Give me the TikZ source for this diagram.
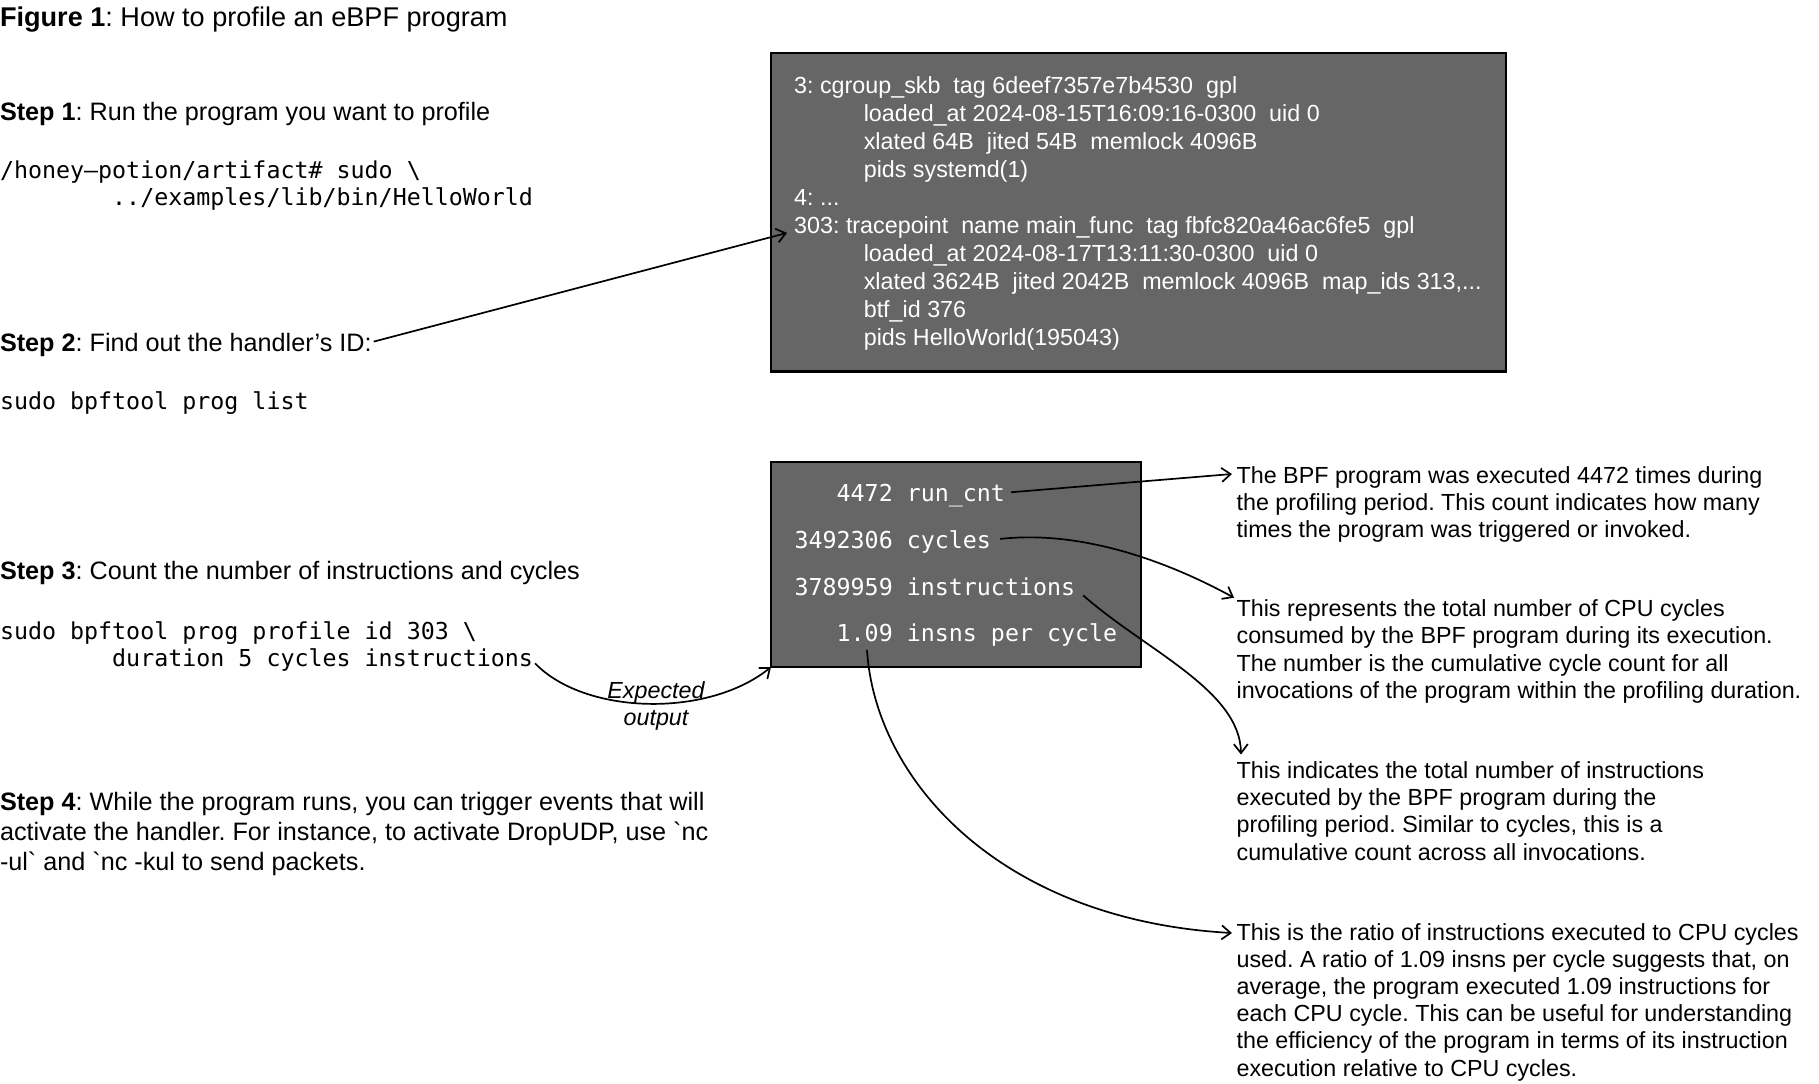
\documentclass[tikz,border=0pt]{standalone}
\usepackage{fontspec}
\setmainfont{Liberation Sans}
\setmonofont{DejaVu Sans Mono}
\usetikzlibrary{arrows.meta}
\definecolor{boxgray}{HTML}{666666}
\newcommand\myst{\rule{0pt}{12pt}}
\frenchspacing
\begin{document}
\begin{tikzpicture}[x=0.5pt,y=-0.5pt,
  txt/.style={inner sep=0pt, outer sep=0pt, anchor=north west, align=left},
  titlefont/.style={font=\fontsize{13.55pt}{16pt}\selectfont},
  stepfont/.style={font=\fontsize{12.6pt}{15pt}\selectfont},
  codefont/.style={font=\ttfamily\fontsize{11.65pt}{13.5pt}\selectfont},
  boxfont/.style={font=\fontsize{11.65pt}{14pt}\selectfont, text=white},
  boxcode/.style={font=\ttfamily\fontsize{11.65pt}{13.5pt}\selectfont, text=white},
  notefont/.style={font=\fontsize{11.65pt}{13.6pt}\selectfont},
  darkbox/.style={draw=black, line width=1.2pt, fill=boxgray, inner sep=0pt, outer sep=0pt, anchor=north west},
  conn/.style={line width=0.85pt, -{Straight Barb[length=4.5pt,width=7pt]}}
]
\fill[white] (0,0) rectangle (1819,1083);
\useasboundingbox (0,0) rectangle (1819,1083);

% title and steps
\node[txt, titlefont] (title) at (0,2.5) {\myst\textbf{Figure 1}: How to profile an eBPF program};
\node[txt, stepfont] (step1) at (0,96) {\myst\textbf{Step 1}: Run the program you want to profile};
\node[txt, codefont] (code1) at (0,154.3) {\myst/honey–potion/artifact\# sudo \textbackslash\\\phantom{12345678}../examples/lib/bin/HelloWorld};
\node[txt, stepfont] (step2) at (0,327) {\myst\textbf{Step 2}: Find out the handler’s ID:};
\node[txt, codefont] (code2) at (0,385.3) {\myst sudo bpftool prog list};
\node[txt, stepfont] (step3) at (0,555.8) {\myst\textbf{Step 3}: Count the number of instructions and cycles};
\node[txt, codefont] (code3) at (0,615) {\myst sudo bpftool prog profile id 303 \textbackslash\\\phantom{12345678}duration 5 cycles instructions};
\node[txt, stepfont] (step4) at (0,786.8) {\myst\textbf{Step 4}: While the program runs, you can trigger events that will\\activate the handler. For instance, to activate DropUDP, use \textasciigrave nc\\-ul\textasciigrave{} and \textasciigrave nc -kul to send packets.};
\node[inner sep=0pt, outer sep=0pt, anchor=north, align=center, font=\itshape\fontsize{11.65pt}{13.5pt}\selectfont] (expout) at (656,674) {\myst Expected\\output};

% top box
\node[darkbox, minimum width=367.5pt, minimum height=159.3pt] (box1) at (771,53) {};
\node[txt, boxfont] (box1txt) at (794.2,69.4) {\myst 3: cgroup\_skb\ \ tag 6deef7357e7b4530\ \ gpl\\
\hspace*{34.8pt}loaded\_at 2024-08-15T16:09:16-0300\ \ uid 0\\
\hspace*{34.8pt}xlated 64B\ \ jited 54B\ \ memlock 4096B\\
\hspace*{34.8pt}pids systemd(1)\\
4: ...\\
303: tracepoint\ \ name main\_func\ \ tag fbfc820a46ac6fe5\ \ gpl\\
\hspace*{34.8pt}loaded\_at 2024-08-17T13:11:30-0300\ \ uid 0\\
\hspace*{34.8pt}xlated 3624B\ \ jited 2042B\ \ memlock 4096B\ \ map\_ids 313,...\\
\hspace*{34.8pt}btf\_id 376\\
\hspace*{34.8pt}pids HelloWorld(195043)};

% bottom box
\node[darkbox, minimum width=185pt, minimum height=102.5pt] (box2) at (771,462) {};
\node[txt, boxcode] (l1) at (794.6,477.5) {\myst\phantom{000}4472 run\_cnt};
\node[txt, boxcode] (l2) at (794.6,524.5) {\myst 3492306 cycles};
\node[txt, boxcode] (l3) at (794.6,571) {\myst 3789959 instructions};
\node[txt, boxcode] (l4) at (794.6,617.5) {\myst\phantom{000}1.09 insns per cycle};

% notes
\node[txt, notefont] (t1) at (1236.6,459) {\myst The BPF program was executed 4472 times during\\the profiling period. This count indicates how many\\times the program was triggered or invoked.};
\node[txt, notefont] (t2) at (1236.6,592.7) {\myst This represents the total number of CPU cycles\\consumed by the BPF program during its execution.\\The number is the cumulative cycle count for all\\invocations of the program within the profiling duration.};
\node[txt, notefont] (t3) at (1236.6,754.5) {\myst This indicates the total number of instructions\\executed by the BPF program during the\\profiling period. Similar to cycles, this is a\\cumulative count across all invocations.};
\node[txt, notefont] (t4) at (1236.6,916) {\myst This is the ratio of instructions executed to CPU cycles\\used. A ratio of 1.09 insns per cycle suggests that, on\\average, the program executed 1.09 instructions for\\each CPU cycle. This can be useful for understanding\\the efficiency of the program in terms of its instruction\\execution relative to CPU cycles.};

% connectors
\draw[conn] ([xshift=1pt]step2.east) -- ([shift={(8pt,-10.3pt)}]box1.west);
\draw[conn] ([shift={(1pt,3.75pt)}]code3.south east) .. controls (585,715) and (708,718) .. (box2.south west);
\draw[conn] ([xshift=3pt]l1.east) -- ([shift={(-2.3pt,-7.5pt)}]t1.north west);
\draw[conn] ([xshift=4.5pt]l2.east) .. controls (1080,530) and (1165,560) .. ([shift={(-1.3pt,-2.5pt)}]t2.north west);
\draw[conn] ([xshift=4pt]l3.south east) .. controls (1145,650) and (1240,690) .. ([shift={(2.2pt,0pt)}]t3.north west);
\draw[conn] ([shift={(36.2pt,-1.75pt)}]l4.south west) .. controls (875,780) and (1000,920) .. ([shift={(-2.3pt,-8.5pt)}]t4.north west);
\end{tikzpicture}
\end{document}
